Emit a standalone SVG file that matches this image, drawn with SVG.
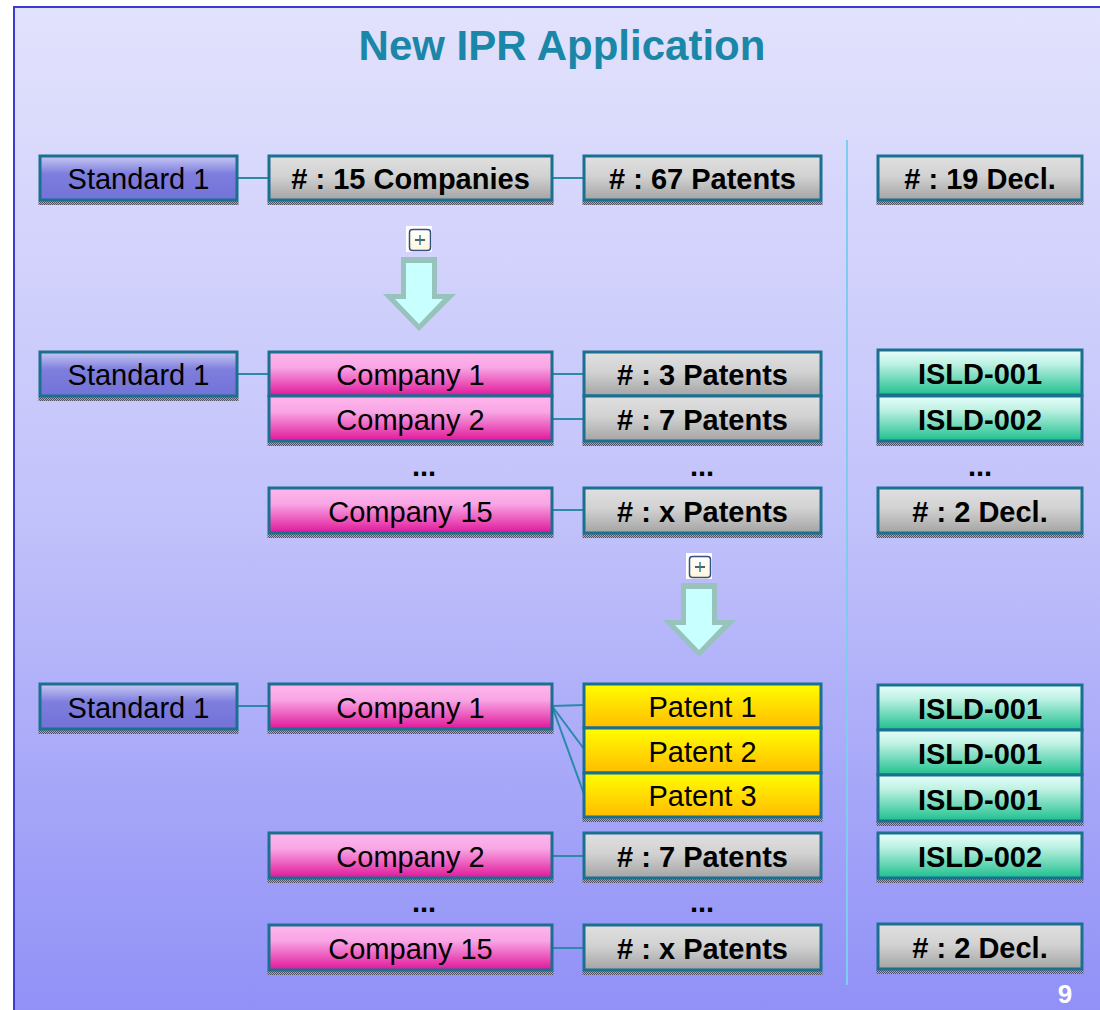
<svg xmlns="http://www.w3.org/2000/svg" width="1100" height="1010" viewBox="0 0 1100 1010">
<style>
.t{font-family:"Liberation Sans",Arial,sans-serif;font-size:29px;text-anchor:middle;fill:#000}
.b{font-weight:bold}
.box{stroke:#1b6f8f;stroke-width:3}
.std{fill:url(#gStd)}
.co{fill:url(#gCo)}
.gr{fill:url(#gGr)}
.ye{fill:url(#gYe)}
.gn{fill:url(#gGn)}
.sh{fill:url(#pSh)}
.conn line{stroke:#2a8aa8;stroke-width:2;fill:none}
</style>
<defs>
<linearGradient id="gBg" x1="0" y1="0" x2="0" y2="1">
<stop offset="0" stop-color="#e2e2fd"/>
<stop offset="0.5" stop-color="#c2c2fb"/>
<stop offset="1" stop-color="#9090f7"/>
</linearGradient>
<linearGradient id="gStd" x1="0" y1="0" x2="0" y2="1">
<stop offset="0" stop-color="#c8c8f4"/>
<stop offset="0.4" stop-color="#7e7ede"/>
<stop offset="1" stop-color="#7272d8"/>
</linearGradient>
<linearGradient id="gCo" x1="0" y1="0" x2="0" y2="1">
<stop offset="0" stop-color="#ffb6ec"/>
<stop offset="0.35" stop-color="#f8a6e4"/>
<stop offset="1" stop-color="#e0169a"/>
</linearGradient>
<linearGradient id="gGr" x1="0" y1="0" x2="0" y2="1">
<stop offset="0" stop-color="#e0e0e0"/>
<stop offset="0.45" stop-color="#d2d2d2"/>
<stop offset="1" stop-color="#a4a4a4"/>
</linearGradient>
<linearGradient id="gYe" x1="0" y1="0" x2="0" y2="1">
<stop offset="0" stop-color="#ffff00"/>
<stop offset="0.5" stop-color="#ffdd00"/>
<stop offset="1" stop-color="#ffbc00"/>
</linearGradient>
<linearGradient id="gGn" x1="0" y1="0" x2="0" y2="1">
<stop offset="0" stop-color="#e6fffa"/>
<stop offset="0.3" stop-color="#c0f2e4"/>
<stop offset="1" stop-color="#1ec08e"/>
</linearGradient>
<linearGradient id="gIc" x1="0" y1="0" x2="0" y2="1">
<stop offset="0" stop-color="#ffffff"/>
<stop offset="1" stop-color="#fff6dc"/>
</linearGradient>
<pattern id="pSh" width="2" height="2" patternUnits="userSpaceOnUse">
<rect width="2" height="2" fill="#a8a8b8"/>
<rect width="1" height="1" fill="#505060"/>
<rect x="1" y="1" width="1" height="1" fill="#505060"/>
</pattern>
</defs>

<rect width="1100" height="1010" fill="#ffffff"/>
<rect x="14" y="7" width="1100" height="1010" fill="url(#gBg)"/>
<line x1="14" y1="7" x2="1100" y2="7" stroke="#3c3cd0" stroke-width="2"/>
<line x1="14" y1="6" x2="14" y2="1010" stroke="#3c3cd0" stroke-width="2"/>

<text x="562" y="60" class="t b" style="font-size:42px;fill:#1a87a8">New IPR Application</text>

<line id="divider" x1="847" y1="140" x2="847" y2="985" stroke="#80ccf0" stroke-width="2"/>

<g class="conn" id="connectors">
<line x1="237" y1="178" x2="269" y2="178"/>
<line x1="552" y1="178" x2="584" y2="178"/>
<line x1="237" y1="374" x2="269" y2="374"/>
<line x1="552" y1="374" x2="584" y2="374"/>
<line x1="552" y1="419" x2="584" y2="419"/>
<line x1="552" y1="510" x2="584" y2="510"/>
<line x1="237" y1="706" x2="269" y2="706"/>
<line x1="552" y1="706" x2="584" y2="705"/>
<line x1="552" y1="706" x2="584" y2="749"/>
<line x1="552" y1="706" x2="584" y2="794"/>
<line x1="552" y1="856" x2="584" y2="856"/>
<line x1="552" y1="948" x2="584" y2="948"/>
</g>

<!-- Arrows and expand icons -->
<g id="arrow1">
<rect x="406" y="226" width="26" height="26" fill="#ffffff"/>
<rect x="409.5" y="229.5" width="21" height="21" rx="3" fill="url(#gIc)" stroke="#34527e" stroke-width="1.5"/>
<line x1="415" y1="240" x2="425" y2="240" stroke="#1a2a3a" stroke-width="1.5"/>
<line x1="420" y1="235" x2="420" y2="245" stroke="#1a8a9a" stroke-width="1.5"/>
<polygon points="401,257 437,257 437,294 456,294 419,331 383,294 401,294" fill="#98c2bc"/>
<polygon points="406,263 432,263 432,299 443,299 419,324 395,299 406,299" fill="#c8ffff"/>
</g>
<g id="arrow2">
<rect x="686" y="553" width="26" height="26" fill="#ffffff"/>
<rect x="689.5" y="556.5" width="21" height="21" rx="3" fill="url(#gIc)" stroke="#34527e" stroke-width="1.5"/>
<line x1="695" y1="567" x2="705" y2="567" stroke="#1a2a3a" stroke-width="1.5"/>
<line x1="700" y1="562" x2="700" y2="572" stroke="#1a8a9a" stroke-width="1.5"/>
<polygon points="681,583 717,583 717,620 736,620 699,657 663,620 681,620" fill="#98c2bc"/>
<polygon points="686,589 712,589 712,625 723,625 699,650 675,625 686,625" fill="#c8ffff"/>
</g>

<!-- Row 1 -->
<g id="r1-standard"><rect class="sh" x="38.5" y="201" width="200" height="4"/><rect class="box std" x="40" y="156" width="197" height="44"/><text class="t" x="138.5" y="188.5">Standard 1</text></g>
<g id="r1-companies"><rect class="sh" x="267.5" y="201" width="286" height="4"/><rect class="box gr" x="269" y="156" width="283" height="44"/><text class="t b" x="410.5" y="188.5"># : 15 Companies</text></g>
<g id="r1-patents"><rect class="sh" x="582.5" y="201" width="240" height="4"/><rect class="box gr" x="584" y="156" width="237" height="44"/><text class="t b" x="702.5" y="188.5"># : 67 Patents</text></g>
<g id="r1-decl"><rect class="sh" x="876.5" y="201" width="207" height="4"/><rect class="box gr" x="878" y="156" width="204" height="44"/><text class="t b" x="980" y="188.5"># : 19 Decl.</text></g>

<!-- Row 2 -->
<g id="r2-standard"><rect class="sh" x="38.5" y="397" width="200" height="4"/><rect class="box std" x="40" y="352" width="197" height="44"/><text class="t" x="138.5" y="384.5">Standard 1</text></g>
<g id="r2-company1"><rect class="box co" x="269" y="352" width="283" height="44"/><text class="t" x="410.5" y="384.5">Company 1</text></g>
<g id="r2-company2"><rect class="sh" x="267.5" y="442" width="286" height="4"/><rect class="box co" x="269" y="396" width="283" height="45"/><text class="t" x="410.5" y="429.5">Company 2</text></g>
<g id="r2-patents3"><rect class="box gr" x="584" y="352" width="237" height="44"/><text class="t b" x="702.5" y="384.5"># : 3 Patents</text></g>
<g id="r2-patents7"><rect class="sh" x="582.5" y="442" width="240" height="4"/><rect class="box gr" x="584" y="396" width="237" height="45"/><text class="t b" x="702.5" y="429.5"># : 7 Patents</text></g>
<g id="r2-isld1"><rect class="box gn" x="878" y="350" width="204" height="45"/><text class="t b" x="980" y="383.5">ISLD-001</text></g>
<g id="r2-isld2"><rect class="sh" x="876.5" y="442" width="207" height="4"/><rect class="box gn" x="878" y="396" width="204" height="45"/><text class="t b" x="980" y="429.5">ISLD-002</text></g>
<text class="t b" x="424" y="476">...</text>
<text class="t b" x="702" y="476">...</text>
<text class="t b" x="980" y="476">...</text>
<g id="r2-company15"><rect class="sh" x="267.5" y="534" width="286" height="4"/><rect class="box co" x="269" y="488" width="283" height="45"/><text class="t" x="410.5" y="521.5">Company 15</text></g>
<g id="r2-patentsx"><rect class="sh" x="582.5" y="534" width="240" height="4"/><rect class="box gr" x="584" y="488" width="237" height="45"/><text class="t b" x="702.5" y="521.5"># : x Patents</text></g>
<g id="r2-decl2"><rect class="sh" x="876.5" y="534" width="207" height="4"/><rect class="box gr" x="878" y="488" width="204" height="45"/><text class="t b" x="980" y="521.5"># : 2 Decl.</text></g>

<!-- Row 3 -->
<g id="r3-standard"><rect class="sh" x="38.5" y="730" width="200" height="4"/><rect class="box std" x="40" y="684" width="197" height="45"/><text class="t" x="138.5" y="717.5">Standard 1</text></g>
<g id="r3-company1"><rect class="sh" x="267.5" y="730" width="286" height="4"/><rect class="box co" x="269" y="684" width="283" height="45"/><text class="t" x="410.5" y="717.5">Company 1</text></g>
<g id="r3-patent1"><rect class="box ye" x="584" y="684" width="237" height="44"/><text class="t" x="702.5" y="716.5">Patent 1</text></g>
<g id="r3-patent2"><rect class="box ye" x="584" y="728" width="237" height="45"/><text class="t" x="702.5" y="761.5">Patent 2</text></g>
<g id="r3-patent3"><rect class="sh" x="582.5" y="818" width="240" height="4"/><rect class="box ye" x="584" y="773" width="237" height="44"/><text class="t" x="702.5" y="805.5">Patent 3</text></g>
<g id="r3-isld1a"><rect class="box gn" x="878" y="685" width="204" height="45"/><text class="t b" x="980" y="718.5">ISLD-001</text></g>
<g id="r3-isld1b"><rect class="box gn" x="878" y="730" width="204" height="45"/><text class="t b" x="980" y="763.5">ISLD-001</text></g>
<g id="r3-isld1c"><rect class="sh" x="876.5" y="822" width="207" height="4"/><rect class="box gn" x="878" y="775" width="204" height="46"/><text class="t b" x="980" y="809.5">ISLD-001</text></g>
<g id="r3-company2"><rect class="sh" x="267.5" y="879" width="286" height="4"/><rect class="box co" x="269" y="833" width="283" height="45"/><text class="t" x="410.5" y="866.5">Company 2</text></g>
<g id="r3-patents7"><rect class="sh" x="582.5" y="879" width="240" height="4"/><rect class="box gr" x="584" y="833" width="237" height="45"/><text class="t b" x="702.5" y="866.5"># : 7 Patents</text></g>
<g id="r3-isld2"><rect class="sh" x="876.5" y="879" width="207" height="4"/><rect class="box gn" x="878" y="833" width="204" height="45"/><text class="t b" x="980" y="866.5">ISLD-002</text></g>
<text class="t b" x="424" y="912">...</text>
<text class="t b" x="702" y="912">...</text>
<g id="r3-company15"><rect class="sh" x="267.5" y="971" width="286" height="4"/><rect class="box co" x="269" y="925" width="283" height="45"/><text class="t" x="410.5" y="958.5">Company 15</text></g>
<g id="r3-patentsx"><rect class="sh" x="582.5" y="971" width="240" height="4"/><rect class="box gr" x="584" y="925" width="237" height="45"/><text class="t b" x="702.5" y="958.5"># : x Patents</text></g>
<g id="r3-decl2"><rect class="sh" x="876.5" y="970" width="207" height="4"/><rect class="box gr" x="878" y="924" width="204" height="45"/><text class="t b" x="980" y="957.5"># : 2 Decl.</text></g>

<text class="t b" x="1065" y="1003" style="fill:#ffffff;font-size:26px">9</text>
</svg>
